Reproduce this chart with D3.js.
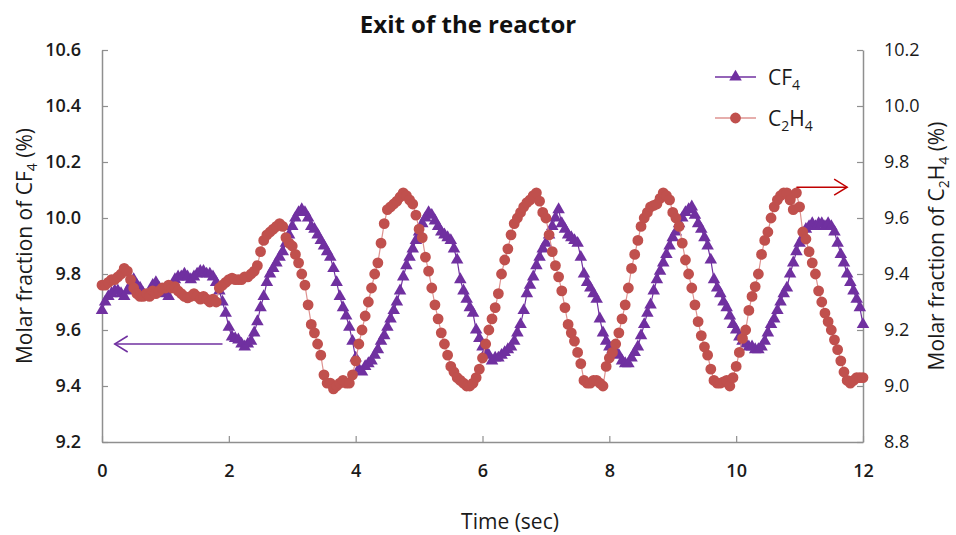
<!DOCTYPE html>
<html><head><meta charset="utf-8">
<script src="https://cdn.jsdelivr.net/npm/d3@7"></script>
<style>body{margin:0;background:#fff} svg{display:block} text{font-family:"Open Sans",sans-serif}</style>
</head><body><svg id="c" width="956" height="535"></svg>
<script>
const timeStep = 0.05; // sampling interval of the recorded series (s)
const cf4 = [
9.67,9.70,9.72,9.73,9.74,9.74,9.73,9.72,9.74,9.76,9.78,9.76,9.75,9.73,9.72,9.73,9.76,9.77,9.75,9.74,
9.73,9.72,9.75,9.78,9.79,9.79,9.80,9.79,9.78,9.79,9.80,9.81,9.81,9.80,9.80,9.79,9.77,9.74,9.70,9.66,
9.61,9.575,9.57,9.565,9.55,9.54,9.55,9.56,9.59,9.63,9.68,9.72,9.77,9.80,9.82,9.84,9.86,9.88,9.91,9.94,
9.97,10.00,10.02,10.03,10.02,10.00,9.97,9.96,9.94,9.92,9.90,9.88,9.86,9.82,9.77,9.72,9.68,9.65,9.61,9.56,
9.50,9.46,9.45,9.47,9.48,9.49,9.51,9.53,9.56,9.58,9.61,9.64,9.67,9.70,9.74,9.79,9.83,9.86,9.89,9.92,
9.95,9.98,10.00,10.02,10.01,9.99,9.97,9.95,9.94,9.93,9.92,9.89,9.85,9.78,9.74,9.71,9.68,9.66,9.60,9.57,
9.54,9.52,9.51,9.49,9.50,9.50,9.51,9.52,9.53,9.54,9.56,9.59,9.62,9.67,9.73,9.76,9.79,9.83,9.86,9.89,
9.91,9.94,9.97,10.00,10.03,9.98,9.96,9.94,9.93,9.92,9.91,9.86,9.80,9.77,9.75,9.73,9.71,9.64,9.59,9.56,
9.54,9.53,9.52,9.51,9.49,9.48,9.48,9.50,9.52,9.54,9.58,9.62,9.66,9.69,9.74,9.78,9.81,9.84,9.87,9.90,
9.93,9.95,9.98,10.00,10.02,10.03,10.04,10.01,9.98,9.96,9.93,9.90,9.85,9.78,9.75,9.73,9.70,9.68,9.65,9.62,
9.60,9.575,9.56,9.55,9.54,9.54,9.53,9.53,9.54,9.56,9.59,9.62,9.64,9.67,9.70,9.73,9.75,9.80,9.84,9.88,
9.91,9.93,9.96,9.97,9.98,9.97,9.98,9.98,9.97,9.98,9.97,9.95,9.91,9.87,9.84,9.80,9.77,9.74,9.71,9.68,
9.62];
const c2h4 = [
9.36,9.36,9.37,9.38,9.38,9.39,9.40,9.42,9.41,9.38,9.35,9.33,9.32,9.32,9.33,9.32,9.34,9.33,9.34,9.35,
9.35,9.36,9.35,9.355,9.34,9.33,9.32,9.315,9.32,9.33,9.32,9.31,9.32,9.31,9.30,9.31,9.30,9.35,9.36,9.37,
9.38,9.385,9.38,9.38,9.38,9.39,9.39,9.40,9.41,9.43,9.48,9.52,9.54,9.55,9.56,9.57,9.58,9.57,9.53,9.51,
9.50,9.47,9.44,9.40,9.36,9.29,9.22,9.19,9.15,9.11,9.04,9.01,9.01,8.99,9.00,9.01,9.02,9.01,9.01,9.04,
9.09,9.15,9.20,9.25,9.30,9.35,9.40,9.44,9.51,9.58,9.63,9.64,9.65,9.66,9.675,9.69,9.68,9.665,9.65,9.61,
9.56,9.53,9.46,9.41,9.35,9.29,9.24,9.19,9.15,9.11,9.07,9.05,9.03,9.02,9.01,9.00,9.00,9.01,9.03,9.06,
9.10,9.15,9.20,9.24,9.28,9.33,9.40,9.45,9.49,9.54,9.58,9.60,9.62,9.64,9.655,9.665,9.68,9.69,9.66,9.62,
9.60,9.54,9.48,9.43,9.39,9.34,9.28,9.22,9.19,9.16,9.12,9.08,9.02,9.01,9.01,9.02,9.02,9.01,9.00,9.07,
9.10,9.12,9.15,9.19,9.24,9.29,9.35,9.42,9.47,9.52,9.57,9.60,9.62,9.64,9.645,9.65,9.67,9.69,9.68,9.665,
9.62,9.60,9.57,9.51,9.45,9.40,9.35,9.29,9.23,9.18,9.14,9.11,9.06,9.02,9.01,9.01,9.015,9.02,9.00,9.03,
9.07,9.12,9.17,9.20,9.27,9.32,9.355,9.40,9.47,9.52,9.55,9.60,9.64,9.665,9.68,9.69,9.69,9.665,9.63,9.69,
9.64,9.55,9.525,9.48,9.44,9.40,9.34,9.30,9.26,9.23,9.20,9.165,9.13,9.09,9.05,9.02,9.01,9.02,9.03,9.03,
9.03];
const xTicks = [0, 2, 4, 6, 8, 10, 12];
const yLeftTicks = [9.2, 9.4, 9.6, 9.8, 10.0, 10.2, 10.4, 10.6];
const yRightTicks = [8.8, 9.0, 9.2, 9.4, 9.6, 9.8, 10.0, 10.2];
const arrowLeft = {from: 1.9, to: 0.2, value: 9.55};
const arrowRight = {from: 10.95, to: 11.75, value: 9.71};

const W = 956, H = 535;
const m = {left: 102, right: 93, top: 50, bottom: 93};
const purple = "#7030A0", red = "#C0504D", redLine = "#DE9391";
const svg = d3.select("#c");

const x = d3.scaleLinear().domain([0, 12]).range([m.left, W - m.right]);
const yL = d3.scaleLinear().domain([9.2, 10.6]).range([H - m.bottom, m.top]);
const yR = d3.scaleLinear().domain([8.8, 10.2]).range([H - m.bottom, m.top]);

function styleAxis(g, weight) {
  g.select(".domain").attr("stroke", "#8f8f8f").attr("stroke-width", 1.5);
  g.selectAll(".tick line").attr("stroke", "#8f8f8f").attr("stroke-width", 1.2);
  g.selectAll(".tick text").attr("font-size", 18).attr("fill", "#1a1a1a")
    .attr("font-family", "'Open Sans',sans-serif").attr("font-weight", weight);
}

svg.append("g").attr("transform", `translate(0,${H - m.bottom})`)
  .call(d3.axisBottom(x).tickValues(xTicks).tickFormat(d3.format("d")).tickSizeInner(-6).tickSizeOuter(0).tickPadding(22))
  .call(g => styleAxis(g, 600));
svg.append("g").attr("transform", `translate(${m.left},0)`)
  .call(d3.axisLeft(yL).tickValues(yLeftTicks).tickFormat(d3.format(".1f")).tickSizeInner(-6).tickSizeOuter(0).tickPadding(21))
  .call(g => styleAxis(g, 600));
svg.append("g").attr("transform", `translate(${W - m.right},0)`)
  .call(d3.axisRight(yR).tickValues(yRightTicks).tickFormat(d3.format(".1f")).tickSizeInner(-6).tickSizeOuter(0).tickPadding(21))
  .call(g => styleAxis(g, 400));

const t = i => i * timeStep;
const triSym = d3.symbol().type(d3.symbolTriangle).size(68);
const cirSym = d3.symbol().type(d3.symbolCircle).size(92);

// CF4 series
svg.append("path").datum(cf4)
  .attr("fill", "none").attr("stroke", purple).attr("stroke-width", 1.2)
  .attr("d", d3.line().x((d, i) => x(t(i))).y(d => yL(d)));
svg.append("g").selectAll("path").data(cf4).join("path")
  .attr("d", triSym).attr("fill", purple)
  .attr("transform", (d, i) => `translate(${x(t(i))},${yL(d)})`);

// C2H4 series
svg.append("path").datum(c2h4)
  .attr("fill", "none").attr("stroke", redLine).attr("stroke-width", 1.2)
  .attr("d", d3.line().x((d, i) => x(t(i))).y(d => yR(d)));
svg.append("g").selectAll("path").data(c2h4).join("path")
  .attr("d", cirSym).attr("fill", red)
  .attr("transform", (d, i) => `translate(${x(t(i))},${yR(d)})`);

// arrows
function arrow(x1, x2, yy, color) {
  const dir = Math.sign(x2 - x1);
  svg.append("line").attr("x1", x1).attr("x2", x2).attr("y1", yy).attr("y2", yy)
    .attr("stroke", color).attr("stroke-width", 1.5);
  svg.append("path").attr("fill", "none").attr("stroke", color).attr("stroke-width", 1.5)
    .attr("d", `M${x2 - dir * 13},${yy - 8}L${x2},${yy}L${x2 - dir * 13},${yy + 8}`);
}
arrow(x(arrowLeft.from), x(arrowLeft.to), yL(arrowLeft.value), purple);
arrow(x(arrowRight.from), x(arrowRight.to), yR(arrowRight.value), "#C00000");

// legend
const lg = svg.append("g");
function legendRow(yy, lineColor, sym, symColor, parts) {
  lg.append("line").attr("x1", 715).attr("x2", 756).attr("y1", yy).attr("y2", yy)
    .attr("stroke", lineColor).attr("stroke-width", 1.5);
  lg.append("path").attr("d", sym).attr("fill", symColor).attr("transform", `translate(735.5,${yy})`);
  const tx = lg.append("text").attr("x", 768).attr("y", yy + 8).attr("font-size", 21).attr("fill", "#1a1a1a");
  parts.forEach(p => {
    tx.append("tspan").text(p[0]).attr("font-size", p[1] ? 14 : 21).attr("dy", p[2] || 0);
  });
}
legendRow(77, purple, triSym, purple, [["CF"], ["4", true, 5]]);
legendRow(118, redLine, cirSym, red, [["C"], ["2", true, 5], ["H", false, -5], ["4", true, 5]]);

// titles
svg.append("text").attr("x", 468).attr("y", 33).attr("text-anchor", "middle")
  .attr("font-size", 24).attr("font-weight", 700).attr("fill", "#111").text("Exit of the reactor");
svg.append("text").attr("x", 510).attr("y", 529).attr("text-anchor", "middle")
  .attr("font-size", 21).attr("fill", "#1a1a1a").text("Time (sec)");

function yTitle(xx, parts) {
  const tx = svg.append("text").attr("transform", `translate(${xx},246) rotate(-90)`)
    .attr("text-anchor", "middle").attr("font-size", 21).attr("fill", "#1a1a1a");
  parts.forEach(p => tx.append("tspan").text(p[0]).attr("font-size", p[1] ? 14 : 21).attr("dy", p[2] || 0));
}
yTitle(32, [["Molar fraction of CF"], ["4", true, 5], [" (%)", false, -5]]);
yTitle(944, [["Molar fraction of C"], ["2", true, 5], ["H", false, -5], ["4", true, 5], [" (%)", false, -5]]);
</script></body></html>
